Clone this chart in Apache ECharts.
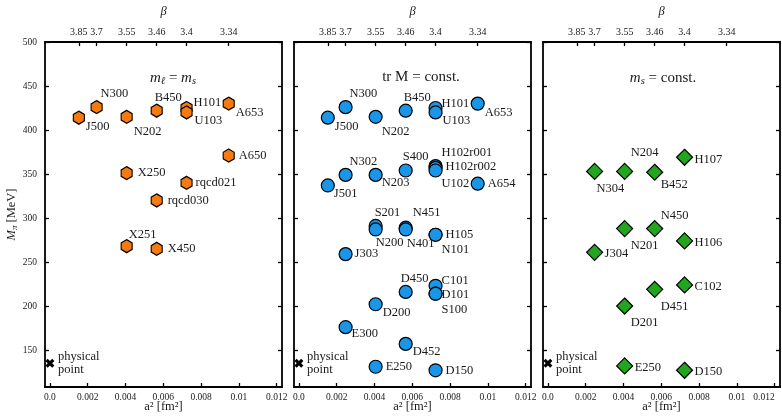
<!DOCTYPE html>
<html>
<head>
<meta charset="utf-8">
<script src="https://cdn.jsdelivr.net/npm/echarts@6/dist/echarts.min.js"></script>
<style>html,body{margin:0;padding:0;background:#fff;}#c{width:782px;height:418px;}</style>
</head>
<body>
<div id="c"></div>
<script>
// ---- data ----
const betaTicks = [3.85, 3.7, 3.55, 3.46, 3.4, 3.34];
const betaA2 = [0.00153, 0.00247, 0.00406, 0.00565, 0.00723, 0.00946];
const xTicks = [0, 0.002, 0.004, 0.006, 0.008, 0.010, 0.012];
const xTickLabels = ['0.0', '0.002', '0.004', '0.006', '0.008', '0.01', '0.012'];
const yTicks = [150, 200, 250, 300, 350, 400, 450, 500];

const names1 = ['J500','N300','N202','B450','H101','U103','A653','A650','X250','rqcd021','rqcd030','X251','X450'];
const beta1  = [3.85, 3.7, 3.55, 3.46, 3.4, 3.4, 3.34, 3.34, 3.55, 3.4, 3.46, 3.55, 3.46];
const mpi1   = [414, 426, 415, 422, 425, 420, 430, 371, 351, 340, 320, 268, 265];

const names2 = ['J500','N300','N202','B450','H101','U103','A653','J501','N302','N203','S400','H102r001','H102r002','U102','A654','S201','N200','N451','N401','H105','N101','J303','D450','C101','D101','S100','D200','E300','D452','E250','D150'];
const beta2  = [3.85, 3.7, 3.55, 3.46, 3.4, 3.4, 3.34, 3.85, 3.7, 3.55, 3.46, 3.4, 3.4, 3.4, 3.34, 3.55, 3.55, 3.46, 3.46, 3.4, 3.4, 3.7, 3.46, 3.4, 3.4, 3.4, 3.55, 3.7, 3.46, 3.55, 3.4];
const mpi2   = [414, 426, 415, 422, 425, 420, 430, 337, 349, 349, 354, 359, 357, 354, 339, 291, 287, 289, 287, 281, 281, 259, 216, 223, 214, 214, 202, 176, 157, 131, 127];

const names3 = ['H107','N304','N204','B452','N450','N201','H106','J304','C102','D451','D201','E250','D150'];
const beta3  = [3.4, 3.7, 3.55, 3.46, 3.46, 3.55, 3.4, 3.7, 3.4, 3.46, 3.55, 3.55, 3.4];
const mpi3   = [369, 353, 353, 352, 288, 288, 274, 261, 224, 219, 200, 132, 127];

const physA2 = 0;
const physMpi = 135;

// ---- label placement (style) ----
const labelOff1 = {J500:[7,9],N300:[4,-13],N202:[7,15],B450:[-2,-13],H101:[7,-5],U103:[8,8],A653:[7,9],A650:[10,0],X250:[11,0],rqcd021:[9,0],rqcd030:[11,0],X251:[2,-11],X450:[11,0]};
const labelOff2 = {J500:[7,9],N300:[4,-13],N202:[6,15],B450:[-2,-13],H101:[6,-4],U103:[7,8],A653:[7,9],J501:[6,8],N302:[4,-13],N203:[6,8],S400:[-3,-14],H102r001:[6,-13],H102r002:[10,-1],U102:[6,13],A654:[10,0],S201:[-1,-13],N200:[0,13],N451:[7,-15],N401:[1,14],H105:[10,0],N101:[6,15],J303:[9,0],D450:[-5,-13],C101:[6,-5],D101:[6,1],S100:[6,16],D200:[7,8],E300:[6,7],D452:[7,8],E250:[10,0],D150:[10,0]};
const labelOff3 = {H107:[10,2],N304:[2,17],N204:[6,-19],B452:[6,12],N450:[6,-13],N201:[6,17],H106:[10,2],J304:[10,1],C102:[10,2],D451:[6,17],D201:[6,17],E250:[10,2],D150:[10,1]};

const FONT = 'Liberation Serif';
const TXT = '#1a1a1a';
const hexPath = 'path://M0,-1 L0.866,-0.5 L0.866,0.5 L0,1 L-0.866,0.5 L-0.866,-0.5 Z';
const xPath = 'path://M-1,-0.5 L-0.5,-1 L0,-0.5 L0.5,-1 L1,-0.5 L0.5,0 L1,0.5 L0.5,1 L0,0.5 L-0.5,1 L-1,0.5 L-0.5,0 Z';

function a2Of(b) { return betaA2[betaTicks.indexOf(b)]; }

const grids = [{left:45, top:42, width:237, height:345, outerBoundsMode:'none', containLabel:false},
               {left:294, top:42, width:237, height:345, outerBoundsMode:'none', containLabel:false},
               {left:543, top:42, width:237, height:345, outerBoundsMode:'none', containLabel:false}];

const XMIN = -0.00026, XMAX = 0.01228, YMIN = 108, YMAX = 500;

const xAxes = [], yAxes = [], series = [];
const lineStyle = {color:'#000', width:1.8};
grids.forEach((g, i) => {
  xAxes.push({
    type:'value', gridIndex:i, position:'bottom', min:XMIN, max:XMAX,
    axisLine:{show:true, onZero:false, lineStyle},
    axisTick:{show:true, inside:true, length:4, lineStyle:{color:'#000', width:1.3}, customValues:xTicks},
    axisLabel:{show:true, customValues:xTicks, margin:5, fontFamily:FONT, fontSize:9.5, color:TXT,
      alignMaxLabel: i===2 ? 'right' : null,
      formatter:(v)=>{ const k = xTicks.findIndex(t=>Math.abs(t-v)<1e-9); return k>=0?xTickLabels[k]:''; }},
    splitLine:{show:false},
    name:'a² [fm²]', nameLocation:'middle', nameGap:13, nameMoveOverlap:false,
    nameTextStyle:{fontFamily:FONT, fontSize:12.5, color:TXT, fontStyle:'normal', verticalAlign:'top'}
  });
  xAxes.push({
    type:'value', gridIndex:i, position:'top', min:XMIN, max:XMAX,
    axisLine:{show:true, onZero:false, lineStyle},
    axisTick:{show:true, inside:true, length:4, lineStyle:{color:'#000', width:1.3}, customValues:betaA2},
    axisLabel:{show:true, customValues:betaA2, margin:5, fontFamily:FONT, fontSize:10, color:TXT,
      formatter:(v)=>{ const k = betaA2.findIndex(t=>Math.abs(t-v)<1e-9); return k>=0?String(betaTicks[k]):''; }},
    splitLine:{show:false},
    name:'β', nameLocation:'middle', nameGap:24, nameMoveOverlap:false,
    nameTextStyle:{fontFamily:FONT, fontSize:12.5, color:TXT, fontStyle:'italic'}
  });
  yAxes.push({
    type:'value', gridIndex:i, position:'left', min:YMIN, max:YMAX,
    axisLine:{show:true, onZero:false, lineStyle},
    axisTick:{show:true, inside:true, length:4, lineStyle:{color:'#000', width:1.3}, customValues:yTicks},
    axisLabel:{show:i===0, customValues:yTicks, margin:8, fontFamily:FONT, fontSize:9.5, color:TXT},
    splitLine:{show:false},
    name: i===0 ? '{i|M}{sub|π} [MeV]' : '', nameLocation:'middle', nameGap:26, nameMoveOverlap:false,
    nameTextStyle:{fontFamily:FONT, fontSize:12.5, color:TXT,
      rich:{i:{fontFamily:FONT, fontSize:12.5, fontStyle:'italic', color:TXT},
            sub:{fontFamily:FONT, fontSize:9, fontStyle:'italic', color:TXT, verticalAlign:'bottom', padding:[5,0,0,0]}}}
  });
  yAxes.push({
    type:'value', gridIndex:i, position:'right', min:YMIN, max:YMAX,
    axisLine:{show:true, onZero:false, lineStyle},
    axisTick:{show:true, inside:true, length:4, lineStyle:{color:'#000', width:1.3}, customValues:yTicks},
    axisLabel:{show:false},
    splitLine:{show:false}
  });
});

function mkData(names, betas, mpis, offs) {
  return names.map((n, k) => ({
    name:n, value:[a2Of(betas[k]), mpis[k]],
    label:{offset: offs[n] || [8,0]}
  }));
}
const baseLabel = {show:true, position:'inside', align:'left', verticalAlign:'middle', formatter:'{b}',
  fontFamily:FONT, fontSize:12.5, color:TXT, textBorderWidth:0};

const panels = [
  {data:mkData(names1, beta1, mpi1, labelOff1), symbol:hexPath, size:[11,13], color:'#f77a10'},
  {data:mkData(names2, beta2, mpi2, labelOff2), symbol:'circle', size:13, color:'#1996e8'},
  {data:mkData(names3, beta3, mpi3, labelOff3), symbol:'diamond', size:[16,16], color:'#22a620'}
];
panels.forEach((p, i) => {
  series.push({
    type:'scatter', xAxisIndex:2*i, yAxisIndex:2*i, data:p.data,
    symbol:p.symbol, symbolSize:p.size,
    itemStyle:{color:p.color, borderColor:'#000', borderWidth:1.2, opacity:1},
    label:baseLabel, emphasis:{disabled:true}, silent:true, z:3
  });
  series.push({
    type:'scatter', xAxisIndex:2*i, yAxisIndex:2*i,
    data:[{name:'physical\npoint', value:[physA2, physMpi]}],
    symbol:xPath, symbolSize:9,
    itemStyle:{color:'#000', opacity:1},
    label:Object.assign({}, baseLabel, {offset:[8,0], lineHeight:12.6, color:'#1a1a1a'}),
    emphasis:{disabled:true}, silent:true, z:3
  });
});

const titleRich = {
  i:{fontFamily:FONT, fontSize:15, fontStyle:'italic', color:TXT},
  n:{fontFamily:FONT, fontSize:15, color:TXT},
  sub:{fontFamily:FONT, fontSize:10.5, fontStyle:'italic', color:TXT, verticalAlign:'bottom', padding:[6,0,0,0]}
};
const titles = [
  {text:'{i|m}{sub|ℓ}{n| = }{i|m}{sub|s}', x:168},
  {text:'{n|tr M = const.}', x:416},
  {text:'{i|m}{sub|s}{n| = const.}', x:658}
].map(t => ({text:t.text, left:t.x, top:65, textAlign:'center',
  textStyle:{rich:titleRich, fontFamily:FONT, fontSize:15, fontWeight:'normal', color:TXT}}));

const chart = echarts.init(document.getElementById('c'), null, {renderer:'canvas'});
chart.setOption({
  animation:false,
  backgroundColor:'#fff',
  title:titles,
  grid:grids,
  xAxis:xAxes,
  yAxis:yAxes,
  series:series
});
</script>
</body>
</html>
